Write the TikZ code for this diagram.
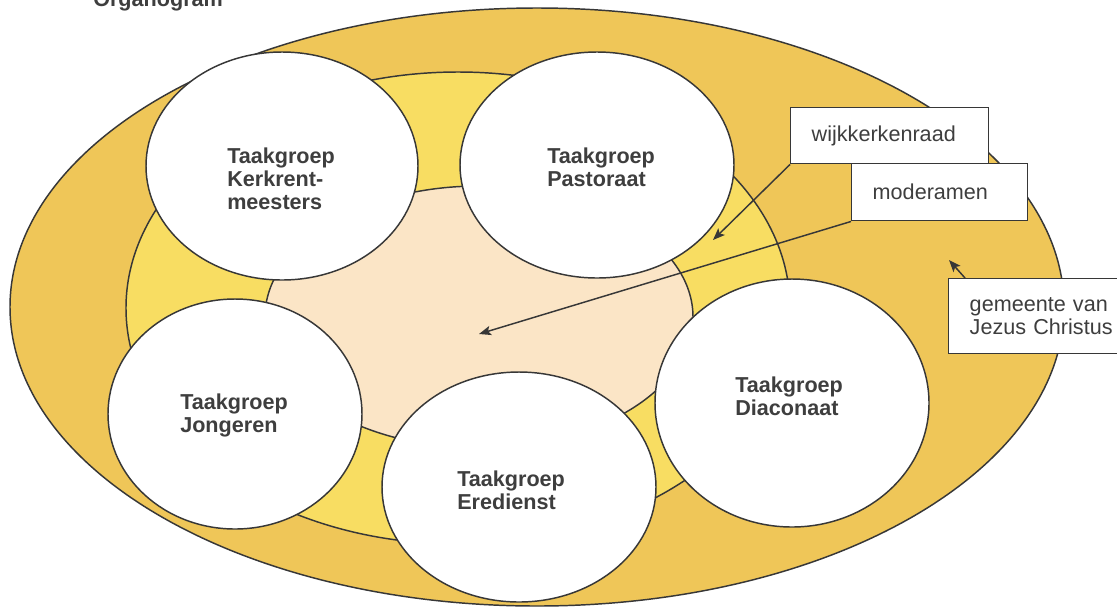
\documentclass[tikz,border=0pt]{standalone}
\usepackage{fontspec}
\setmainfont{Liberation Sans}
\usetikzlibrary{shapes.geometric,arrows.meta,calc}
\definecolor{outerc}{RGB}{239,198,88}
\definecolor{midc}{RGB}{248,221,98}
\definecolor{innerc}{RGB}{251,229,198}
\definecolor{linec}{RGB}{55,55,55}
\definecolor{txtc}{RGB}{62,62,62}
\begin{document}
\begin{tikzpicture}[x=0.75pt,y=-0.75pt,
  ring/.style={draw=linec,line width=1.1pt},
  wcirc/.style={ellipse,draw=linec,line width=1.1pt,fill=white,inner sep=0pt},
  lbl/.style={anchor=base west,inner sep=0pt,text width=100pt,align=left,
    text=txtc,font=\fontsize{16.2}{17.6}\selectfont\bfseries},
  tbox/.style={rectangle,draw=linec,line width=1.1pt,fill=white,anchor=north west,
    inner xsep=15.75pt,inner ysep=0pt,align=left,text=txtc,
    font=\fontsize{16.2}{17.3}\selectfont},
  arr/.style={draw=linec,line width=1.1pt,-{Stealth[length=9pt,width=7pt,inset=2pt]}}]
\useasboundingbox (0,0) rectangle (1117,608);
\fill[white] (0,0) rectangle (1117,608);

% title (partly cut off at top)
\node[anchor=base west,inner sep=0pt,text=txtc,font=\fontsize{16.2}{17.6}\selectfont\bfseries] (title) at (93,6) {Organogram};

% rings
\draw[ring,fill=outerc] (537,307) ellipse [x radius=527,y radius=299];
\draw[ring,fill=midc] (458,308) ellipse [x radius=332,y radius=236];
\draw[ring,fill=innerc] (479,317) ellipse [x radius=214,y radius=131];

% task groups
\node[wcirc,minimum width=204pt,minimum height=171pt] (kerk) at (282,166) {};
\node[wcirc,minimum width=205.5pt,minimum height=169.5pt] (past) at (597,165) {};
\node[wcirc,minimum width=190.5pt,minimum height=172.5pt] (jong) at (235,414) {};
\node[wcirc,minimum width=205.5pt,minimum height=186pt] (diac) at (792,403) {};
\node[wcirc,minimum width=205.5pt,minimum height=172.5pt] (ere) at (519,487) {};

\node[lbl] (kerkT) at (227,163) {Taakgroep\\Kerkrent-\\meesters};
\node[lbl] (pastT) at (547,163) {Taakgroep\\Pastoraat};
\node[lbl] (jongT) at (180,409) {Taakgroep\\Jongeren};
\node[lbl] (diacT) at (735,392) {Taakgroep\\Diaconaat};
\node[lbl] (ereT) at (457,486) {Taakgroep\\Eredienst};

% label boxes
\node[tbox,text width=117pt,minimum height=42pt] (wijk) at (790,107) {wijkkerkenraad};
\node[tbox,text width=100.5pt,minimum height=42.75pt] (mod) at (851,163) {moderamen};
\node[tbox,text width=108pt,minimum height=56.25pt] (gem) at (948,278) {gemeente van\\Jezus Christus};

% arrows
\coordinate (a1) at (713,240);
\coordinate (a2) at (479,334);
\coordinate (a3) at (949,260);
\draw[arr] (wijk.south west) -- (a1);
\draw[arr] (mod.south west) -- (a2);
\draw[arr] ($(gem.north west)+(17,0)$) -- (a3);
\end{tikzpicture}
\end{document}
